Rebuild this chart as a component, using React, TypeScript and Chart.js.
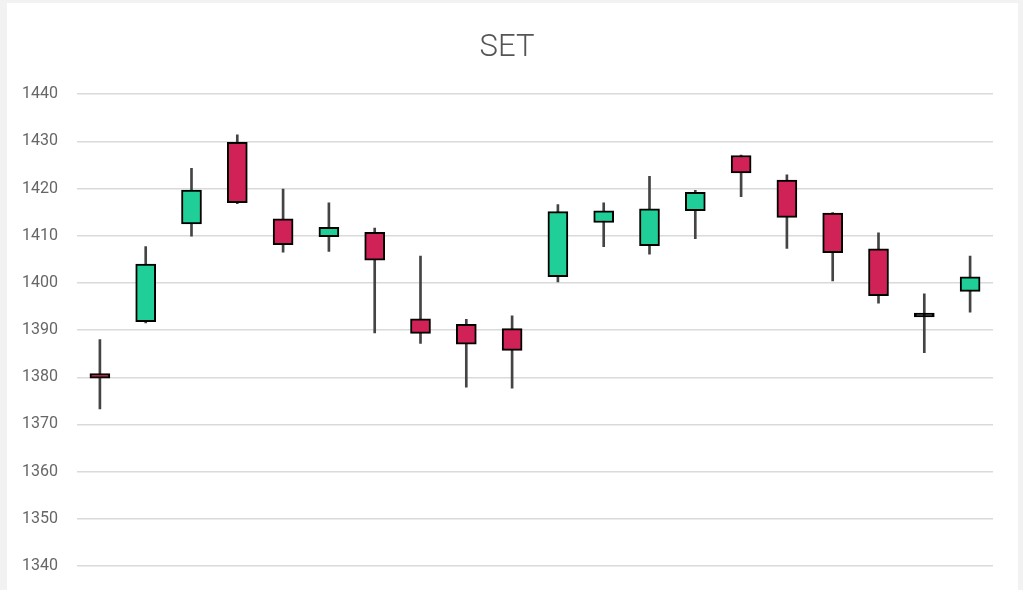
import React, { useEffect, useRef } from "react";
import { Chart, registerables } from "chart.js";

Chart.register(...registerables);

const labels = ["1", "2", "3", "4", "5", "6", "7", "8", "9", "10", "11", "12", "13", "14", "15", "16", "17", "18", "19", "20"];
const opens = [1380.8, 1391.8, 1412.5, 1429.8, 1413.6, 1409.8, 1410.7, 1392.4, 1391.2, 1390.3, 1401.3, 1412.8, 1407.9, 1415.3, 1427.0, 1421.8, 1414.8, 1407.2, 1393.6, 1398.2];
const closes = [1379.8, 1404.0, 1419.7, 1417.0, 1408.1, 1411.8, 1404.8, 1389.3, 1387.0, 1385.7, 1415.1, 1415.3, 1415.7, 1419.2, 1423.3, 1413.9, 1406.4, 1397.3, 1392.8, 1401.3];
const highs = [1388.0, 1407.7, 1424.3, 1431.4, 1419.9, 1417.0, 1411.6, 1405.7, 1392.3, 1393.0, 1416.6, 1417.0, 1422.6, 1419.6, 1427.1, 1422.9, 1414.9, 1410.6, 1397.7, 1405.7];
const lows = [1373.3, 1391.5, 1409.9, 1416.8, 1406.5, 1406.7, 1389.4, 1387.2, 1377.9, 1377.7, 1400.2, 1407.7, 1406.1, 1409.4, 1418.3, 1407.3, 1400.4, 1395.7, 1385.2, 1393.8];

const UP = "#20cf97";
const DOWN = "#d02256";
const FLAT = "#000";

export default function App() {
  const ref = useRef<HTMLCanvasElement | null>(null);

  useEffect(() => {
    document.body.style.margin = "0";
    document.body.style.background = "#f2f2f2";
    const canvas = ref.current;
    if (!canvas) return;
    const bodies = opens.map((o, i) => [o, closes[i]]);
    const wicks = lows.map((l, i) => [l, highs[i]]);
    const colors = opens.map((o, i) =>
      Math.abs(closes[i] - o) < 1 ? FLAT : closes[i] > o ? UP : DOWN
    );
    const chart = new Chart(canvas, {
      type: "bar",
      data: {
        labels,
        datasets: [
          {
            label: "body",
            data: bodies as any,
            backgroundColor: colors,
            borderColor: "#000",
            borderWidth: 2,
            borderSkipped: false,
            barThickness: 20,
            grouped: false,
          } as any,
          {
            label: "wick",
            data: wicks as any,
            backgroundColor: "#444",
            borderWidth: 0,
            barThickness: 2,
            grouped: false,
          } as any,
        ],
      },
      options: {
        animation: false,
        responsive: false,
        layout: { padding: { left: 14, right: 25, top: 0, bottom: 37 } },
        plugins: {
          legend: { display: false },
          tooltip: { enabled: false },
          title: {
            display: true,
            text: "SET",
            color: "#555",
            font: { family: "Roboto", size: 31, weight: "300" as any, lineHeight: 1.2 },
            padding: { top: 27, bottom: 27 },
          },
        },
        scales: {
          x: { display: false, offset: true },
          y: {
            min: 1340,
            max: 1440,
            ticks: {
              stepSize: 10,
              color: "#666",
              padding: 19,
              font: { family: "Roboto", size: 16 },
              callback: (v: any) => String(v),
            },
            grid: { color: "#dadada", lineWidth: 1.5, drawTicks: false },
            border: { display: false },
            afterFit: (s: any) => {
              s.width = 56;
            },
          } as any,
        },
      },
    });
    return () => chart.destroy();
  }, []);

  return (
    <div style={{ position: "absolute", left: 7, top: 3, width: 1011, height: 620, background: "#fff" }}>
      <canvas ref={ref} width={1011} height={600} style={{ display: "block" }} />
    </div>
  );
}
